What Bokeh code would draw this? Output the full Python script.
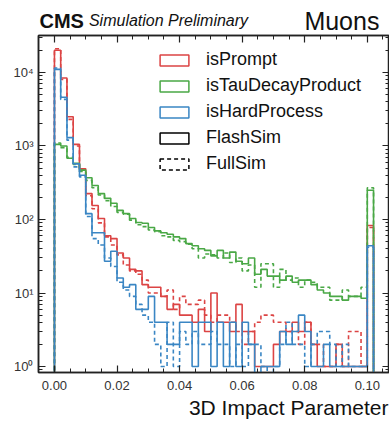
import numpy as np
from bokeh.plotting import figure
from bokeh.layouts import column
from bokeh.models import (Range1d, LogAxis, LinearAxis, FixedTicker, PrintfTickFormatter,
                          CustomJSTickFormatter, Label, Legend, LegendItem)
from bokeh.embed import file_html
from bokeh.resources import INLINE

# ---------------- data ----------------
bin_edges = [0.000, 0.002, 0.004, 0.006, 0.008, 0.010, 0.012, 0.014, 0.016, 0.018,
             0.020, 0.022, 0.024, 0.026, 0.028, 0.030, 0.032, 0.034, 0.036, 0.038,
             0.040, 0.042, 0.044, 0.046, 0.048, 0.050, 0.052, 0.054, 0.056, 0.058,
             0.060, 0.062, 0.064, 0.066, 0.068, 0.070, 0.072, 0.074, 0.076, 0.078,
             0.080, 0.082, 0.084, 0.086, 0.088, 0.090, 0.092, 0.094, 0.096, 0.098,
             0.100, 0.102]

prompt_flash = [20000, 8400, 2500, 1050, 490, 225, 155, 103, 60, 55,
                35, 30, 21, 20, 13, 12, 12, 9, 6, 7,
                5, 5, 4, 6, 3, 10, 4, 4, 3, 7,
                3, 3, 1, 1, 1, 2, 3, 3, 4, 3,
                4, 2, 1, 1, 1, 2, 1, 1, 1, 1, 83]
prompt_full = [21000, 8000, 2300, 1000, 470, 210, 140, 90, 58, 45,
               33, 24, 20, 18, 15, 10, 10, 9, 11, 6,
               9, 7, 7, 8, 5, 4, 5, 5, 4, 3,
               2, 3, 4, 5, 5, 4, 4, 3, 3, 2,
               4, 2, 2, 1, 1, 2, 1, 3, 3, 1, 78]
tau_flash = [1050, 1000, 680, 580, 470, 370, 290, 225, 194, 166,
             133, 120, 103, 91, 89, 78, 70, 66, 63, 58,
             55, 47, 44, 40, 38, 32, 38, 30, 36, 27,
             25, 30, 18, 21, 17, 17, 15, 17, 14, 15,
             15, 13, 11, 10, 9, 9, 8, 9, 9, 8.5, 250]
tau_full = [1100, 950, 700, 560, 450, 340, 270, 215, 180, 150,
            125, 118, 98, 85, 80, 72, 68, 60, 58, 52,
            50, 46, 40, 30, 34, 33, 30, 35, 26, 30,
            20, 24, 12, 25, 25, 12, 21, 15, 16, 12,
            15, 14, 12, 12, 8, 8, 11, 9, 9, 12, 270]
hard_flash = [11000, 4600, 1300, 570, 400, 120, 66, 66, 27, 37,
              16, 12, 13, 6, 6, 9, 4, 4, 2, 2,
              4, 4, 1, 4, 4, 1, 4, 1, 4, 1,
              4, 2, 0, 1, 1, 1, 3, 2, 3, 5,
              3, 1, 1, 2, 1, 1, 1, 1, 1, 1, 44]
hard_full = [11500, 4300, 1200, 520, 380, 110, 55, 45, 30, 23,
             14, 11, 9, 7, 5, 4, 2, 1, 4, 1,
             3, 2, 3, 2, 2, 3, 2, 2, 1, 2,
             1, 2, 2, 1, 0, 1, 2, 4, 2, 2,
             1, 2, 3, 3, 2, 1, 2, 1, 1, 1, 42]

x_ticks = [0.00, 0.02, 0.04, 0.06, 0.08, 0.10]
x_minor = [-0.005, 0.005, 0.010, 0.015, 0.025, 0.030, 0.035, 0.045, 0.050, 0.055,
           0.065, 0.070, 0.075, 0.085, 0.090, 0.095, 0.105]
y_ticks = [1, 10, 100, 1000, 10000]
y_minor = [0.9, 2, 3, 4, 5, 6, 7, 8, 9, 20, 30, 40, 50, 60, 70, 80, 90,
           200, 300, 400, 500, 600, 700, 800, 900,
           2000, 3000, 4000, 5000, 6000, 7000, 8000, 9000, 20000, 30000]

RED, GREEN, BLUE = "#dc4444", "#4aa846", "#3a86c4"
FONT = "Liberation Sans"
FLOOR = 1e-3
W = 389
LEFT = 38
HEAD_H, MAIN_H, FOOT_H = 34, 366, 22


def step_xy(edges, counts):
    xs, ys = [edges[0]], [FLOOR]
    for i, c in enumerate(counts):
        v = c if c > 0 else FLOOR
        xs += [edges[i], edges[i + 1]]
        ys += [v, v]
    xs.append(edges[-1])
    ys.append(FLOOR)
    return xs, ys


def text_strip(height):
    # the column aligns this strip's frame with the main frame (x from LEFT to ~W-3);
    # the ranges are set so that data units equal canvas pixels
    f = figure(width=W, height=height, output_backend="svg", toolbar_location=None,
               x_range=Range1d(LEFT, W - 3), y_range=Range1d(height, 0),
               x_axis_location=None, y_axis_location=None,
               min_border=0, min_border_left=LEFT, min_border_right=0,
               min_border_top=0, min_border_bottom=0)
    f.xgrid.visible = False
    f.ygrid.visible = False
    f.outline_line_color = None
    f.background_fill_color = "white"
    f.border_fill_color = "white"
    return f


fig = figure(width=W, height=MAIN_H, output_backend="svg", toolbar_location=None,
             x_range=Range1d(-0.0051, 0.1071), y_range=Range1d(0.83, 31800),
             y_axis_type="log",
             min_border_left=LEFT, min_border_right=0, min_border_top=1, min_border_bottom=28)
fig.xgrid.visible = False
fig.ygrid.visible = False
fig.outline_line_color = "#222222"
fig.outline_line_width = 1.5
fig.background_fill_color = "white"
fig.border_fill_color = "white"

for counts, color, dash in [(prompt_flash, RED, "solid"), (prompt_full, RED, "4 3"),
                            (tau_flash, GREEN, "solid"), (tau_full, GREEN, "4 3"),
                            (hard_flash, BLUE, "solid"), (hard_full, BLUE, "4 3")]:
    xs, ys = step_xy(bin_edges, counts)
    fig.line(xs, ys, line_color=color, line_width=1.6, line_dash=dash)

# legend proxies (zero-size boxes, only shown in the legend)
leg_specs = [("isPrompt", RED, "solid"), ("isTauDecayProduct", GREEN, "solid"),
             ("isHardProcess", BLUE, "solid"), ("FlashSim", "black", "solid"),
             ("FullSim", "black", "4 3")]
items = []
for lab, col, dash in leg_specs:
    r = fig.quad(left=[0.0], right=[0.0], top=[1.0], bottom=[1.0], fill_alpha=0,
                 line_color=col, line_width=1.5, line_dash=dash)
    items.append(LegendItem(label=lab, renderers=[r]))
legend = Legend(items=items, location=(118, 198), padding=0, margin=0,
                glyph_width=36, glyph_height=14, label_standoff=14, spacing=5,
                label_text_font=FONT, label_text_font_size="18px", label_text_color="#111111",
                border_line_alpha=0, background_fill_alpha=0)
fig.add_layout(legend)


def style_axis(ax, labels=True):
    ax.axis_line_color = "#222222"
    ax.axis_line_width = 1.5
    ax.major_tick_line_color = "#222222"
    ax.minor_tick_line_color = "#222222"
    ax.major_tick_line_width = 1.2
    ax.minor_tick_line_width = 1.0
    ax.major_tick_in = 7
    ax.major_tick_out = 0
    ax.minor_tick_in = 4
    ax.minor_tick_out = 0
    ax.major_label_text_font = FONT
    ax.major_label_text_color = "#333333"
    if labels:
        ax.major_label_text_font_size = "13px"
    else:
        ax.major_label_text_font_size = "1px"
        ax.major_label_text_alpha = 0
        ax.major_label_standoff = 0


xt = FixedTicker(ticks=x_ticks, minor_ticks=x_minor)
yt = FixedTicker(ticks=y_ticks, minor_ticks=y_minor)
sup_js = """
const sup = {"-":"\u207b","0":"\u2070","1":"\u00b9","2":"\u00b2","3":"\u00b3","4":"\u2074",
             "5":"\u2075","6":"\u2076","7":"\u2077","8":"\u2078","9":"\u2079"};
const e = Math.round(Math.log10(tick));
return "10" + String(e).split("").map(c => sup[c]).join("");
"""

xa = fig.xaxis[0]
xa.ticker = xt
xa.formatter = PrintfTickFormatter(format="%.2f")
style_axis(xa)
xa.major_label_standoff = 8

ya = fig.yaxis[0]
ya.ticker = yt
ya.formatter = CustomJSTickFormatter(code=sup_js)
style_axis(ya)
ya.major_label_standoff = 5

top_ax = LinearAxis(ticker=xt)
style_axis(top_ax, labels=False)
fig.add_layout(top_ax, "above")
right_ax = LogAxis(ticker=yt)
style_axis(right_ax, labels=False)
fig.add_layout(right_ax, "right")

# header texts (data units of the strip = canvas pixels)
head = text_strip(HEAD_H)
head.add_layout(Label(x=39, y=20, text="CMS", text_font=FONT, text_font_style="bold",
                      text_font_size="20px", text_baseline="alphabetic", text_color="#111111"))
head.add_layout(Label(x=88, y=20, text="Simulation Preliminary", text_font=FONT,
                      text_font_style="italic", text_font_size="16px",
                      text_baseline="alphabetic", text_color="#111111"))
head.add_layout(Label(x=376, y=20, text="Muons", text_font=FONT, text_font_size="25px",
                      text_align="right", text_baseline="alphabetic", text_color="#111111"))

# footer: x-axis title
foot = text_strip(FOOT_H)
foot.add_layout(Label(x=385, y=7, text="3D Impact Parameter", text_font=FONT,
                      text_font_size="21px", text_align="right", text_baseline="alphabetic",
                      text_color="#111111"))

p = column(head, fig, foot, spacing=0)
open("out.html", "w").write(file_html(p, INLINE))
